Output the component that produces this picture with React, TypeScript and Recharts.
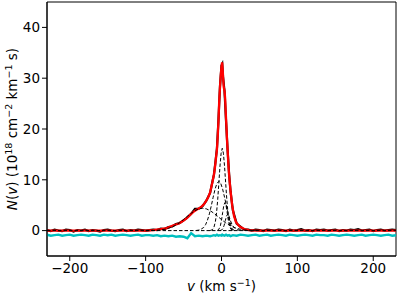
import { LineChart, Line, XAxis, YAxis, ReferenceArea } from 'recharts'

// observed spectrum + residual share one velocity grid (km/s)
const velocity = [
  -230, -225, -220, -215, -210, -205, -200, -195, -190, -185, -180, -175, -170, -165, -160, -155, -150, -145, -140, -135, -130, -125, -120, -115, -110, -105, -100,
  -95, -90, -85, -80, -75, -70, -65, -60, -55, -50, -45, -40, -35, -30, -25, -20, -15,
  -12, -10, -8, -6, -4, -2, 0, 1, 2, 4, 6, 8, 10, 12,
  15, 20, 25, 30, 35, 40, 45, 50, 55, 60, 65, 70, 75, 80, 85, 90, 95, 100, 105, 110, 115, 120, 125, 130, 135, 140, 145, 150, 155, 160, 165, 170, 175, 180, 185, 190, 195, 200, 205, 210, 215, 220, 225, 230,
]

const observed = [
  0.1, -0.1, 0.2, 0.0, -0.1, 0.2, 0.1, -0.2, 0.1, 0.0, 0.2, -0.1, 0.1, 0.0, -0.2, 0.1, 0.2, 0.0, -0.1, 0.1, 0.2, -0.1, 0.1, 0.0, 0.2, 0.1, 0.0,
  0.1, 0.2, 0.1, 0.4, 0.3, 0.7, 0.8, 1.3, 1.5, 2.0, 2.6, 3.3, 4.3, 4.3, 4.8, 5.9, 7.4,
  9.6, 11, 13.5, 16.2, 21.8, 28.4, 32.5, 32.8, 30.3, 27.4, 21.5, 16, 11.2, 7.6,
  4.0, 1.4, 0.8, 0.2, 0.2, 0.0, 0.2, 0.1, -0.1, 0.2, 0.1, 0.0, 0.2, 0.1, -0.1, 0.2, 0.0, 0.1, 0.3, 0.0, 0.1, -0.1, 0.2, 0.1, 0.2, 0.0, 0.1, 0.2, -0.1, 0.1, 0.0, 0.2, 0.1, 0.3, 0.0, 0.1, 0.2, -0.1, 0.1, 0.2, 0.0, 0.1, 0.2, 0.1,
]

const residual = [
  -0.8, -1.0, -0.9, -0.8, -1.0, -0.9, -0.8, -1.0, -0.9, -0.8, -0.9, -1.0, -0.8, -0.9, -1.0, -0.8, -0.9, -0.8, -1.0, -0.9, -0.8, -0.9, -1.0, -0.9, -0.8, -1.0, -0.9,
  -0.9, -1.0, -0.9, -1.1, -1.0, -1.1, -1.0, -1.2, -1.1, -1.2, -1.5, -0.5, -1.1, -1.0, -1.1, -1.0, -1.1,
  -1.0, -0.9, -1.0, -0.8, -1.0, -0.9, -1.0, -0.8, -0.9, -1.0, -0.8, -1.0, -0.9, -1.1,
  -0.9, -1.0, -0.8, -0.9, -1.0, -0.9, -0.8, -1.0, -0.9, -0.8, -1.0, -0.9, -0.8, -0.9, -1.0, -0.8, -0.9, -1.0, -0.9, -0.8, -0.9, -1.0, -0.8, -0.9, -0.9, -1.0, -0.8, -0.9, -1.0, -0.9, -0.8, -0.9, -1.0, -0.9, -0.8, -1.0, -0.9, -0.8, -0.9, -1.0, -0.9, -0.8, -1.0, -0.9,
]

// total fit (red)
const fitVelocity = [-230, -100, -90, -80, -72, -64, -56, -50, -46, -40, -37, -33, -28, -25, -22, -18, -15, -12, -10, -9, -8, -7, -6, -5, -4, -3, -2, -1, 0, 0.8, 1.5, 2.2, 3, 4, 4.8, 5.5, 6.5, 7.2, 8, 9, 10, 11, 12, 14, 16.5, 19, 22, 25, 30, 36, 45, 230]
const fitValues = [0, 0, 0.1, 0.3, 0.5, 1.0, 1.4, 2.0, 2.4, 3.3, 3.7, 4.1, 4.5, 4.9, 5.4, 6.4, 7.5, 9.5, 11, 12, 13.3, 14.7, 16, 18.5, 21.5, 25.5, 28.2, 30.5, 32.3, 33.1, 31.8, 30, 28.2, 27.5, 26, 23.5, 20.5, 18, 16, 13.2, 11, 9.2, 7.7, 5.0, 2.9, 1.7, 1.1, 0.7, 0.3, 0.1, 0, 0]

// individual components (dashed)
const broadV = [-100, -95, -90, -85, -80, -75, -70, -65, -60, -55, -50, -45, -40, -35, -30, -25, -20, -15, -10, -5, 0, 5, 10, 15, 20, 25, 30, 35, 40, 45, 50]
const broadN = [0, 0.02, 0.04, 0.07, 0.14, 0.26, 0.44, 0.72, 1.1, 1.58, 2.17, 2.8, 3.41, 3.93, 4.28, 4.4, 4.28, 3.93, 3.41, 2.8, 2.17, 1.58, 1.1, 0.72, 0.44, 0.26, 0.14, 0.07, 0.04, 0.02, 0]

const midV = [-33.5, -28.5, -23.5, -21, -18.5, -16, -13.5, -11, -8.5, -6, -3.5, -1, 1.5, 4, 6.5, 9, 11.5, 14, 16.5, 21.5, 26.5]
const midN = [0.02, 0.13, 0.61, 1.16, 2.04, 3.29, 4.85, 6.57, 8.16, 9.29, 9.7, 9.29, 8.16, 6.57, 4.85, 3.29, 2.04, 1.16, 0.61, 0.13, 0.02]

const mainV = [-15, -12, -10, -8, -6.5, -5, -3.5, -2, -0.5, 1, 2.5, 4, 5.5, 7, 8.5, 10, 12, 14, 17]
const mainN = [0.02, 0.17, 0.62, 1.81, 3.53, 6.11, 9.36, 12.7, 15.24, 16.2, 15.24, 12.7, 9.36, 6.11, 3.53, 1.81, 0.62, 0.17, 0.02]

const narrow1V = [-5.5, -3.5, -1.5, 0, 1.5, 3, 4.5, 6, 7.5, 9, 10.5, 12.5, 14.5]
const narrow1N = [0.04, 0.24, 0.95, 2.04, 3.54, 4.93, 5.5, 4.93, 3.54, 2.04, 0.95, 0.24, 0.04]

const narrow2V = [-2, 0, 2, 3.5, 5, 6.5, 8, 9.5, 11, 12.5, 14, 16, 18]
const narrow2N = [0.01, 0.09, 0.43, 1.04, 1.94, 2.82, 3.2, 2.82, 1.94, 1.04, 0.43, 0.09, 0.01]

const baselineV = [-230, 230]
const baselineN = [0, 0]

const xTicks = [-200, -100, 0, 100, 200]
const yTicks = [0, 10, 20, 30, 40]

const FONT = 'DejaVu Sans'

const toPoints = (vs: number[], ns: number[]) => vs.map((v, i) => ({ v, n: ns[i] }))
const minus = (t: number) => (t < 0 ? `\u2212${-t}` : `${t}`)

const components = [
  toPoints(broadV, broadN),
  toPoints(midV, midN),
  toPoints(mainV, mainN),
  toPoints(narrow1V, narrow1N),
  toPoints(narrow2V, narrow2N),
  toPoints(baselineV, baselineN),
]

function XLabel(props: any) {
  const { x, y, width } = props.viewBox
  return (
    <text x={x + width / 2} y={y + 35} textAnchor="middle" fontSize={13.5} fontFamily={FONT} fill="#000">
      <tspan fontStyle="italic">v</tspan>
      <tspan> (km s</tspan>
      <tspan dy={-5} fontSize={9.5}>{'\u22121'}</tspan>
      <tspan dy={5}>)</tspan>
    </text>
  )
}

function YLabel(props: any) {
  const { y, height } = props.viewBox
  const cx = 12
  const cy = y + height / 2
  return (
    <text x={cx} y={cy} dy="0.35em" transform={`rotate(-90, ${cx}, ${cy})`} textAnchor="middle" fontSize={13.5} fontFamily={FONT} fill="#000">
      <tspan fontStyle="italic">N</tspan>
      <tspan>(</tspan>
      <tspan fontStyle="italic">v</tspan>
      <tspan>) (10</tspan>
      <tspan dy={-5} fontSize={9.5}>18</tspan>
      <tspan dy={5}> cm</tspan>
      <tspan dy={-5} fontSize={9.5}>{'\u22122'}</tspan>
      <tspan dy={5}> km</tspan>
      <tspan dy={-5} fontSize={9.5}>{'\u22121'}</tspan>
      <tspan dy={5}> s)</tspan>
    </text>
  )
}

export default function App() {
  return (
    <div style={{ position: 'fixed', left: 0, top: 0, background: '#fff' }}>
      <LineChart width={399} height={298} margin={{ top: 2, right: 3, bottom: 0, left: 0 }}>
        <XAxis
          dataKey="v"
          type="number"
          domain={[-230, 230]}
          ticks={xTicks}
          tickFormatter={minus}
          allowDataOverflow
          height={42}
          tickSize={5}
          tickMargin={2}
          stroke="#000"
          tick={{ fontSize: 13.5, fill: '#000', fontFamily: FONT }}
          label={{ content: (p: any) => <XLabel {...p} /> }}
        />
        <YAxis
          type="number"
          domain={[-5, 45]}
          ticks={yTicks}
          tickFormatter={minus}
          allowDataOverflow
          width={47}
          tickSize={5}
          tickMargin={2}
          stroke="#000"
          tick={{ fontSize: 13.5, fill: '#000', fontFamily: FONT }}
          label={{ content: (p: any) => <YLabel {...p} /> }}
        />
        <Line data={toPoints(velocity, observed)} dataKey="n" stroke="#000" strokeWidth={2.2} dot={false} isAnimationActive={false} />
        <Line data={toPoints(fitVelocity, fitValues)} dataKey="n" stroke="#ff0000" strokeWidth={2.3} dot={false} isAnimationActive={false} />
        {components.map((d, i) => (
          <Line key={i} data={d} dataKey="n" stroke="#000" strokeWidth={1} strokeDasharray="3.5 2" dot={false} isAnimationActive={false} />
        ))}
        <Line data={toPoints(velocity, residual)} dataKey="n" stroke="#00bfbf" strokeWidth={2.4} dot={false} isAnimationActive={false} />
        <ReferenceArea x1={-230} x2={230} y1={-5} y2={45} fill="none" stroke="#000" strokeWidth={1} />
      </LineChart>
    </div>
  )
}
